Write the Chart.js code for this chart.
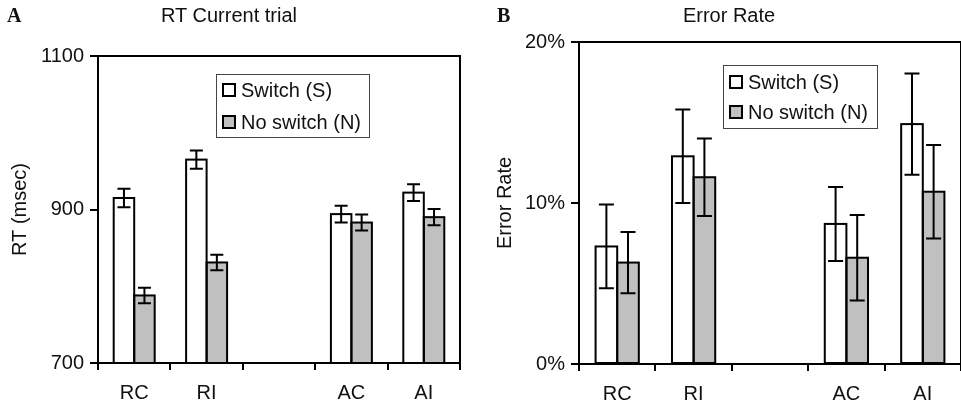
<!DOCTYPE html>
<html>
<head>
<meta charset="utf-8">
<script src="https://cdn.jsdelivr.net/npm/chart.js@4.4.0/dist/chart.umd.min.js"></script>
<style>
  body { margin: 0; background: #fff; width: 961px; height: 404px; overflow: hidden; position: relative; font-family: "Liberation Sans", Arial, sans-serif; }
  .panel { position: absolute; top: 0; height: 404px; }
  #pa { left: 0; width: 480px; }
  #pb { left: 480px; width: 481px; }
  .ttl { position: absolute; top: 3px; font-size: 20px; line-height: 24px; color: #111; transform: translateX(-50%); white-space: nowrap; }
  .letter { position: absolute; top: 3px; font-family: "Liberation Serif", serif; font-weight: bold; font-size: 20px; line-height: 24px; color: #111; }
</style>
</head>
<body>
<div class="panel" id="pa"><canvas id="rtChart"></canvas></div>
<div class="panel" id="pb"><canvas id="errChart"></canvas></div>
<div class="letter" style="left:7px">A</div>
<div class="ttl" style="left:229px">RT Current trial</div>
<div class="letter" style="left:497px">B</div>
<div class="ttl" style="left:729px">Error Rate</div>
<script>
const categories = ['RC', 'RI', '', 'AC', 'AI'];
const seriesNames = ['Switch (S)', 'No switch (N)'];

const rtSwitch = [915, 965, null, 894, 922];
const rtSwitchErr = [12, 12, null, 11, 11];
const rtNoSwitch = [788, 831, null, 883, 890];
const rtNoSwitchErr = [10, 10, null, 10.5, 10.5];
const rtTicks = [700, 900, 1100];

const errSwitch = [7.3, 12.9, null, 8.7, 14.9];
const errSwitchErr = [2.6, 2.9, null, 2.3, 3.15];
const errNoSwitch = [6.3, 11.6, null, 6.6, 10.7];
const errNoSwitchErr = [1.9, 2.4, null, 2.65, 2.9];
const errTicks = [0, 10, 20];

const FONT = "'Liberation Sans', Arial, sans-serif";
Chart.defaults.font.family = FONT;
Chart.defaults.font.size = 20;
Chart.defaults.color = '#111';

// black frame round the plot area
const frame = {
    id: 'frame',
    afterDraw(chart) {
        const a = chart.chartArea;
        const ctx = chart.ctx;
        ctx.save();
        ctx.strokeStyle = '#000';
        ctx.lineWidth = 2;
        ctx.strokeRect(a.left, a.top, a.right - a.left, a.bottom - a.top);
        ctx.restore();
    }
};

// outline each bar with a 2px line centred on its edge
const barOutline = {
    id: 'barOutline',
    afterDatasetsDraw(chart) {
        const ctx = chart.ctx;
        const a = chart.chartArea;
        ctx.save();
        ctx.beginPath();
        ctx.rect(a.left, a.top, a.right - a.left, a.bottom - a.top);
        ctx.clip();
        ctx.strokeStyle = '#000';
        ctx.lineWidth = 2;
        chart.data.datasets.forEach((ds, di) => {
            chart.getDatasetMeta(di).data.forEach((bar, i) => {
                if (ds.data[i] == null) return;
                const p = bar.getProps(['x', 'y', 'base', 'width']);
                ctx.strokeRect(p.x - p.width / 2, p.y, p.width, p.base - p.y);
            });
        });
        ctx.restore();
    }
};

// error bars from dataset.errors
const errorBars = {
    id: 'errorBars',
    afterDatasetsDraw(chart, args, opts) {
        const ctx = chart.ctx;
        const y = chart.scales.y;
        const half = opts.cap || 6.5;
        ctx.save();
        ctx.strokeStyle = '#000';
        ctx.lineWidth = 2;
        chart.data.datasets.forEach((ds, di) => {
            const meta = chart.getDatasetMeta(di);
            meta.data.forEach((bar, i) => {
                const v = ds.data[i];
                const e = ds.errors[i];
                if (v == null || e == null) return;
                const top = y.getPixelForValue(v + e);
                const bot = y.getPixelForValue(v - e);
                ctx.beginPath();
                ctx.moveTo(bar.x, top); ctx.lineTo(bar.x, bot);
                ctx.moveTo(bar.x - half, top); ctx.lineTo(bar.x + half, top);
                ctx.moveTo(bar.x - half, bot); ctx.lineTo(bar.x + half, bot);
                ctx.stroke();
            });
        });
        ctx.restore();
    }
};

// boxed legend inside the plot
const boxLegend = {
    id: 'boxLegend',
    afterDraw(chart, args, opts) {
        const ctx = chart.ctx;
        ctx.save();
        ctx.fillStyle = '#fff';
        ctx.fillRect(opts.x, opts.y, opts.w, opts.h);
        ctx.strokeStyle = '#444';
        ctx.lineWidth = 1;
        ctx.strokeRect(opts.x + 0.5, opts.y + 0.5, opts.w, opts.h);
        ctx.font = '20px ' + FONT;
        ctx.textBaseline = 'middle';
        chart.data.datasets.forEach((ds, i) => {
            const cy = opts.rowY[i];
            ctx.fillStyle = ds.backgroundColor;
            ctx.fillRect(opts.boxX, cy - 6, 12, 12);
            ctx.strokeStyle = '#000';
            ctx.lineWidth = 2;
            ctx.strokeRect(opts.boxX, cy - 6, 12, 12);
            ctx.fillStyle = '#111';
            ctx.fillText(ds.label, opts.textX, cy + 1);
        });
        ctx.restore();
    }
};

function makeDatasets(s, sErr, n, nErr) {
    return [
        { label: seriesNames[0], data: s, errors: sErr, backgroundColor: '#ffffff', borderWidth: 0,
          categoryPercentage: 0.566, barPercentage: 1.0 },
        { label: seriesNames[1], data: n, errors: nErr, backgroundColor: '#c0c0c0', borderWidth: 0,
          categoryPercentage: 0.566, barPercentage: 1.0 }
    ];
}

function makeChart(id, cfg) {
    return new Chart(document.getElementById(id), {
        type: 'bar',
        data: { labels: categories, datasets: makeDatasets(cfg.s, cfg.sErr, cfg.n, cfg.nErr) },
        plugins: [barOutline, errorBars, frame, boxLegend],
        options: {
            responsive: true,
            maintainAspectRatio: false,
            animation: false,
            layout: { padding: cfg.padding },
            plugins: {
                legend: { display: false },
                tooltip: { enabled: false },
                title: { display: false },
                errorBars: { cap: cfg.cap },
                boxLegend: cfg.legend
            },
            scales: {
                x: {
                    grid: { offset: true, drawOnChartArea: false, drawTicks: true, tickLength: 7, color: '#000', lineWidth: 2 },
                    border: { display: false },
                    ticks: { padding: 11, color: '#111', maxRotation: 0 },
                    afterFit(scale) { scale.height = cfg.xHeight; }
                },
                y: {
                    min: cfg.min,
                    max: cfg.max,
                    grid: { drawOnChartArea: false, drawTicks: true, tickLength: 8, color: '#000', lineWidth: 2 },
                    border: { display: false },
                    ticks: { padding: 6, color: '#111', callback: cfg.fmt },
                    afterBuildTicks(scale) { scale.ticks = cfg.ticks.map(v => ({ value: v })); },
                    afterFit(scale) { scale.width = cfg.yWidth; },
                    title: { display: true, text: cfg.yTitle, color: '#111', font: { size: 20 }, padding: { top: cfg.yTitlePad, bottom: 0 } }
                }
            }
        }
    });
}

makeChart('rtChart', {
    s: rtSwitch, sErr: rtSwitchErr, n: rtNoSwitch, nErr: rtNoSwitchErr,
    min: 700, max: 1100, ticks: rtTicks, fmt: v => String(v),
    yTitle: 'RT (msec)', yTitlePad: 8, cap: 6.5,
    padding: { top: 56, right: 20, bottom: 0, left: 0 },
    yWidth: 98, xHeight: 41,
    legend: { x: 216, y: 74, w: 153, h: 63, boxX: 223, textX: 241, rowY: [90, 122] }
});

makeChart('errChart', {
    s: errSwitch, sErr: errSwitchErr, n: errNoSwitch, nErr: errNoSwitchErr,
    min: 0, max: 20, ticks: errTicks, fmt: v => v + '%',
    yTitle: 'Error Rate', yTitlePad: 13, cap: 7.5,
    padding: { top: 42, right: 0, bottom: 0, left: 0 },
    yWidth: 99, xHeight: 40,
    legend: { x: 243, y: 65, w: 154, h: 63, boxX: 250, textX: 268, rowY: [82, 112] }
});
</script>
</body>
</html>
